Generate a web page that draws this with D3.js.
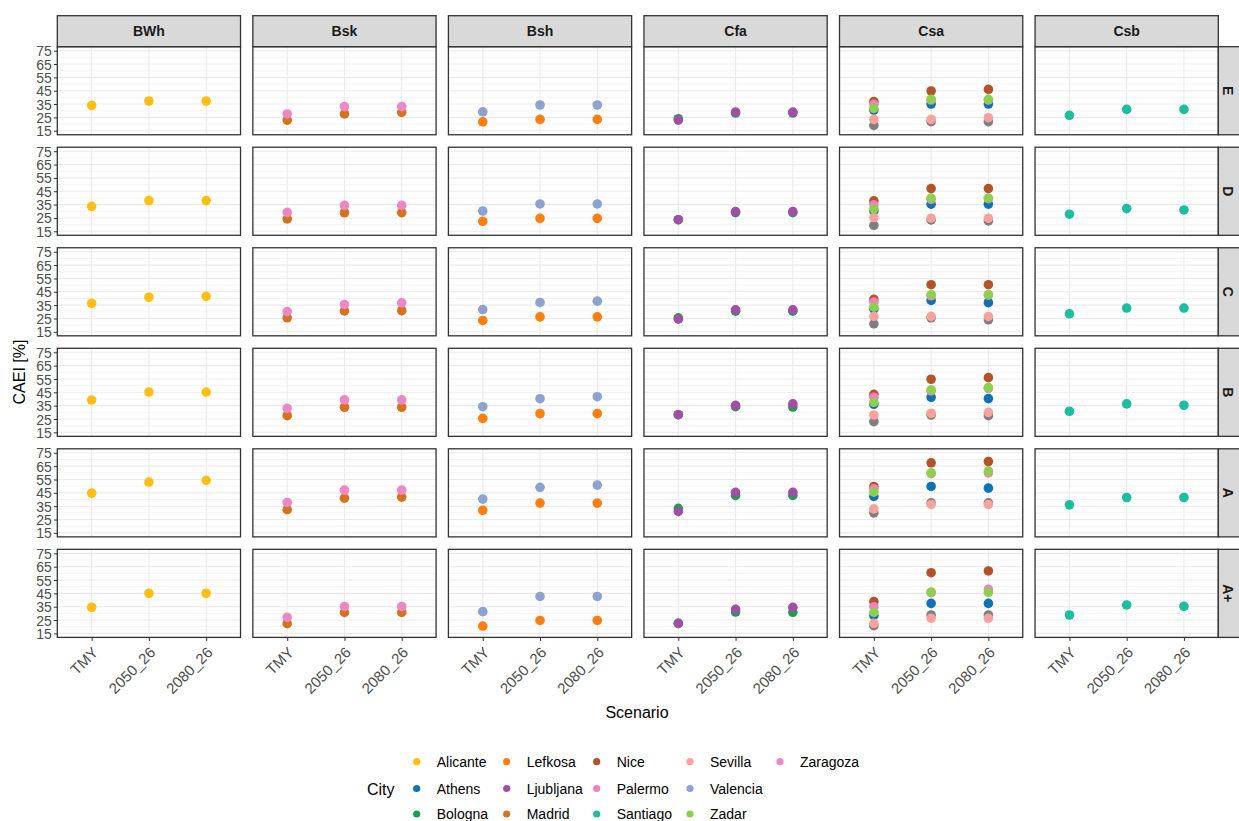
<!DOCTYPE html>
<html>
<head>
<meta charset="utf-8">
<script src="https://cdn.jsdelivr.net/npm/d3@7"></script>
<style>
  body { margin: 0; background: #fff; }
  svg { display: block; font-family: "Liberation Sans", Arial, sans-serif; }
</style>
</head>
<body>
<svg id="chart" width="1239" height="821"></svg>
<script>
// Facet layout: climate zones across, building classes down
const zones = ["BWh", "Bsk", "Bsh", "Cfa", "Csa", "Csb"];
const levels = ["E", "D", "C", "B", "A", "A+"];
const scenarios = ["TMY", "2050_26", "2080_26"];
const yTicks = [15, 25, 35, 45, 55, 65, 75];

// Legend entries (column-major, three rows)
const cities = ["Alicante", "Athens", "Bologna", "Lefkosa", "Ljubljana", "Madrid", "Nice",
                "Palermo", "Santiago", "Sevilla", "Valencia", "Zadar", "Zaragoza"];
const cityColors = ["#FFBF12", "#0F72B6", "#19A04C", "#FF7E0F", "#A04EA6", "#D4721E", "#B3532B",
                    "#F47FBE", "#1BBE9D", "#F8A29E", "#8BA3CE", "#8DD04D", "#EE87C6"];
const naColor = "#7F7F7F";

// Climate zone of each city (NA = unlisted station)
const cityZone = {
  Alicante: "BWh", Madrid: "Bsk", Zaragoza: "Bsk", Lefkosa: "Bsh", Valencia: "Bsh",
  Bologna: "Cfa", Ljubljana: "Cfa", Athens: "Csa", Nice: "Csa", Palermo: "Csa",
  Sevilla: "Csa", Zadar: "Csa", Santiago: "Csb", NA: "Csa"
};

// CAEI [%] per class (rows E, D, C, B, A, A+) and scenario (TMY, 2050_26, 2080_26)
const alicante  = [[34.0, 37.3, 37.3], [33.7, 38.0, 38.0], [36.4, 40.9, 41.6], [39.2, 45.2, 45.2], [44.8, 53.1, 54.4], [34.6, 45.1, 45.1]];
const madrid    = [[23.0, 27.6, 28.8], [24.3, 28.9, 29.0], [25.5, 30.7, 30.9], [27.5, 33.8, 33.8], [32.4, 41.0, 41.8], [22.3, 30.7, 30.7]];
const zaragoza  = [[27.6, 33.1, 33.1], [29.2, 34.4, 34.4], [30.1, 35.5, 36.7], [33.0, 39.3, 39.3], [37.8, 47.0, 47.0], [27.0, 35.2, 35.2]];
const valencia  = [[29.2, 34.3, 34.3], [30.2, 35.5, 35.5], [31.7, 37.0, 38.0], [34.2, 40.2, 41.7], [40.3, 49.1, 50.8], [31.3, 42.7, 42.7]];
const lefkosa   = [[21.7, 23.5, 23.5], [22.5, 24.7, 24.7], [23.5, 26.2, 26.2], [25.5, 29.0, 29.0], [31.9, 37.3, 37.3], [20.5, 24.7, 24.7]];
const bologna   = [[24.0, 28.3, 28.3], [23.7, 29.0, 29.0], [25.5, 30.5, 30.5], [28.2, 34.2, 34.0], [33.4, 43.1, 43.1], [22.5, 31.0, 30.8]];
const ljubljana = [[23.0, 29.0, 29.0], [23.7, 29.7, 29.7], [24.5, 31.5, 31.5], [28.2, 35.2, 36.4], [31.1, 45.4, 45.4], [22.5, 33.0, 34.5]];
const athens    = [[30.5, 35.0, 35.0], [30.3, 35.3, 35.3], [32.3, 38.5, 36.8], [36.0, 41.3, 40.3], [42.3, 49.8, 48.5], [28.5, 37.5, 37.5]];
const nice      = [[36.8, 44.8, 46.0], [37.8, 47.0, 47.0], [39.3, 50.3, 50.3], [43.5, 54.8, 56.0], [49.8, 67.5, 68.5], [38.8, 60.5, 61.8]];
const palermo   = [[34.8, 38.0, 38.0], [34.8, 39.0, 39.5], [37.3, 42.0, 42.5], [41.3, 46.0, 48.0], [48.0, 59.5, 60.0], [35.0, 45.5, 48.0]];
const sevilla   = [[23.5, 23.5, 24.8], [25.3, 24.8, 24.8], [26.5, 26.5, 26.5], [28.0, 29.3, 30.0], [33.0, 36.3, 36.3], [22.5, 26.3, 26.3]];
const zadar     = [[31.8, 38.5, 38.5], [31.8, 39.8, 39.8], [33.5, 42.8, 42.8], [37.5, 46.8, 48.5], [45.5, 60.0, 61.3], [30.8, 46.0, 45.8]];
const santiago  = [[26.5, 31.0, 31.0], [27.8, 32.0, 31.0], [28.5, 32.8, 32.8], [30.8, 36.3, 35.3], [36.0, 41.5, 41.5], [28.8, 36.3, 35.3]];
const unlisted  = [[19.0, 21.8, 21.8], [19.5, 23.5, 22.8], [21.0, 25.5, 24.0], [23.0, 28.0, 27.5], [30.0, 37.5, 37.5], [20.8, 28.8, 28.8]];

// Drawing order: unlisted station first, then cities alphabetically
const series = [
  ["NA", unlisted], ["Alicante", alicante], ["Athens", athens], ["Bologna", bologna],
  ["Lefkosa", lefkosa], ["Ljubljana", ljubljana], ["Madrid", madrid], ["Nice", nice],
  ["Palermo", palermo], ["Santiago", santiago], ["Sevilla", sevilla], ["Valencia", valencia],
  ["Zadar", zadar], ["Zaragoza", zaragoza]
];

const color = d3.scaleOrdinal().domain(cities).range(cityColors).unknown(naColor);

const points = [];
series.forEach(([city, rows]) => {
  rows.forEach((vals, li) => {
    vals.forEach((v, si) => {
      points.push({ city, zone: cityZone[city], level: levels[li], scenario: scenarios[si], value: v });
    });
  });
});

const svg = d3.select("#chart");

// Facet grid scales
const fx = d3.scaleBand().domain(zones).range([57.3, 1218.3]).paddingInner(0.063);
const fy = d3.scaleBand().domain(levels).range([46.7, 637.4]).paddingInner(0.124);
const pw = fx.bandwidth(), ph = fy.bandwidth();

// Within-panel scales
const x = d3.scalePoint().domain(scenarios).range([0, pw]).padding(0.6);
const y = d3.scaleLinear().domain([12, 78]).range([ph, 0]);
const minorY = d3.range(20, 75, 10);

const grey20 = "#333333";
const tickGrey = "#4D4D4D";

levels.forEach((lv, ri) => {
  zones.forEach((zn, ci) => {
    const g = svg.append("g").attr("transform", `translate(${fx(zn)},${fy(lv)})`);
    g.append("rect").attr("width", pw).attr("height", ph).attr("fill", "#fff");
    // minor grid
    g.selectAll(".minor").data(minorY).join("line")
      .attr("x1", 0).attr("x2", pw).attr("y1", d => y(d)).attr("y2", d => y(d))
      .attr("stroke", "#EBEBEB").attr("stroke-width", 0.6);
    // major grid
    g.selectAll(".majorY").data(yTicks).join("line")
      .attr("x1", 0).attr("x2", pw).attr("y1", d => y(d)).attr("y2", d => y(d))
      .attr("stroke", "#EBEBEB").attr("stroke-width", 1.1);
    g.selectAll(".majorX").data(scenarios).join("line")
      .attr("y1", 0).attr("y2", ph).attr("x1", d => x(d)).attr("x2", d => x(d))
      .attr("stroke", "#EBEBEB").attr("stroke-width", 1.1);

    // points
    g.selectAll("circle").data(points.filter(p => p.zone === zn && p.level === lv)).join("circle")
      .attr("cx", d => x(d.scenario)).attr("cy", d => y(d.value)).attr("r", 4.8)
      .attr("fill", d => color(d.city));

    // border
    g.append("rect").attr("width", pw).attr("height", ph).attr("fill", "none")
      .attr("stroke", grey20).attr("stroke-width", 1.3);

    // y axis on first column
    if (ci === 0) {
      const ax = g.append("g").call(d3.axisLeft(y).tickValues(yTicks).tickSize(3.5).tickPadding(2));
      ax.select(".domain").remove();
      ax.selectAll("line").attr("stroke", grey20).attr("stroke-width", 1);
      ax.selectAll("text").attr("fill", tickGrey).attr("font-size", 14)
        .attr("font-family", "Liberation Sans, Arial, sans-serif").attr("dy", "0.36em");
    }
    // x axis on bottom row
    if (ri === levels.length - 1) {
      const ax = g.append("g").attr("transform", `translate(0,${ph})`)
        .call(d3.axisBottom(x).tickSize(3.5).tickPadding(2));
      ax.select(".domain").remove();
      ax.selectAll("line").attr("stroke", grey20).attr("stroke-width", 1);
      ax.selectAll("text").attr("fill", tickGrey).attr("font-size", 15)
        .attr("font-family", "Liberation Sans, Arial, sans-serif")
        .attr("text-anchor", "end").attr("dy", null).attr("y", 0)
        .attr("transform", "translate(7,16) rotate(-45)");
    }
  });
});

// Top strips
zones.forEach(zn => {
  const g = svg.append("g").attr("transform", `translate(${fx(zn)},15.7)`);
  g.append("rect").attr("width", pw).attr("height", 31).attr("fill", "#D9D9D9")
    .attr("stroke", grey20).attr("stroke-width", 1.3);
  g.append("text").attr("x", pw / 2).attr("y", 20.5).attr("text-anchor", "middle")
    .attr("font-size", 14).attr("font-weight", "bold").attr("fill", "#1A1A1A").text(zn);
});

// Right strips
levels.forEach(lv => {
  const g = svg.append("g").attr("transform", `translate(1218.3,${fy(lv)})`);
  g.append("rect").attr("width", 24).attr("height", ph).attr("fill", "#D9D9D9")
    .attr("stroke", grey20).attr("stroke-width", 1.3);
  g.append("text").attr("transform", `translate(10,${ph / 2}) rotate(90)`)
    .attr("text-anchor", "middle").attr("dy", "0.35em")
    .attr("font-size", 14).attr("font-weight", "bold").attr("fill", "#1A1A1A").text(lv);
});

// Axis titles
svg.append("text").attr("transform", "translate(25,372) rotate(-90)").attr("text-anchor", "middle")
  .attr("font-size", 16).attr("fill", "#000").text("CAEI [%]");
svg.append("text").attr("x", 637).attr("y", 718).attr("text-anchor", "middle")
  .attr("font-size", 16).attr("fill", "#000").text("Scenario");

// Legend
svg.append("text").attr("x", 367).attr("y", 795).attr("font-size", 16).attr("fill", "#000").text("City");
const legCols = [416.7, 506.7, 596.7, 690, 780];
const legRows = [761.7, 788.5, 814];
const leg = svg.append("g");
cities.forEach((c, i) => {
  const col = Math.floor(i / 3), row = i % 3;
  const gx = legCols[col], gy = legRows[row];
  leg.append("circle").attr("cx", gx).attr("cy", gy).attr("r", 3.6).attr("fill", color(c));
  leg.append("text").attr("x", gx + 20).attr("y", gy).attr("dy", "0.36em")
    .attr("font-size", 14).attr("fill", "#000").text(c);
});
</script>
</body>
</html>
